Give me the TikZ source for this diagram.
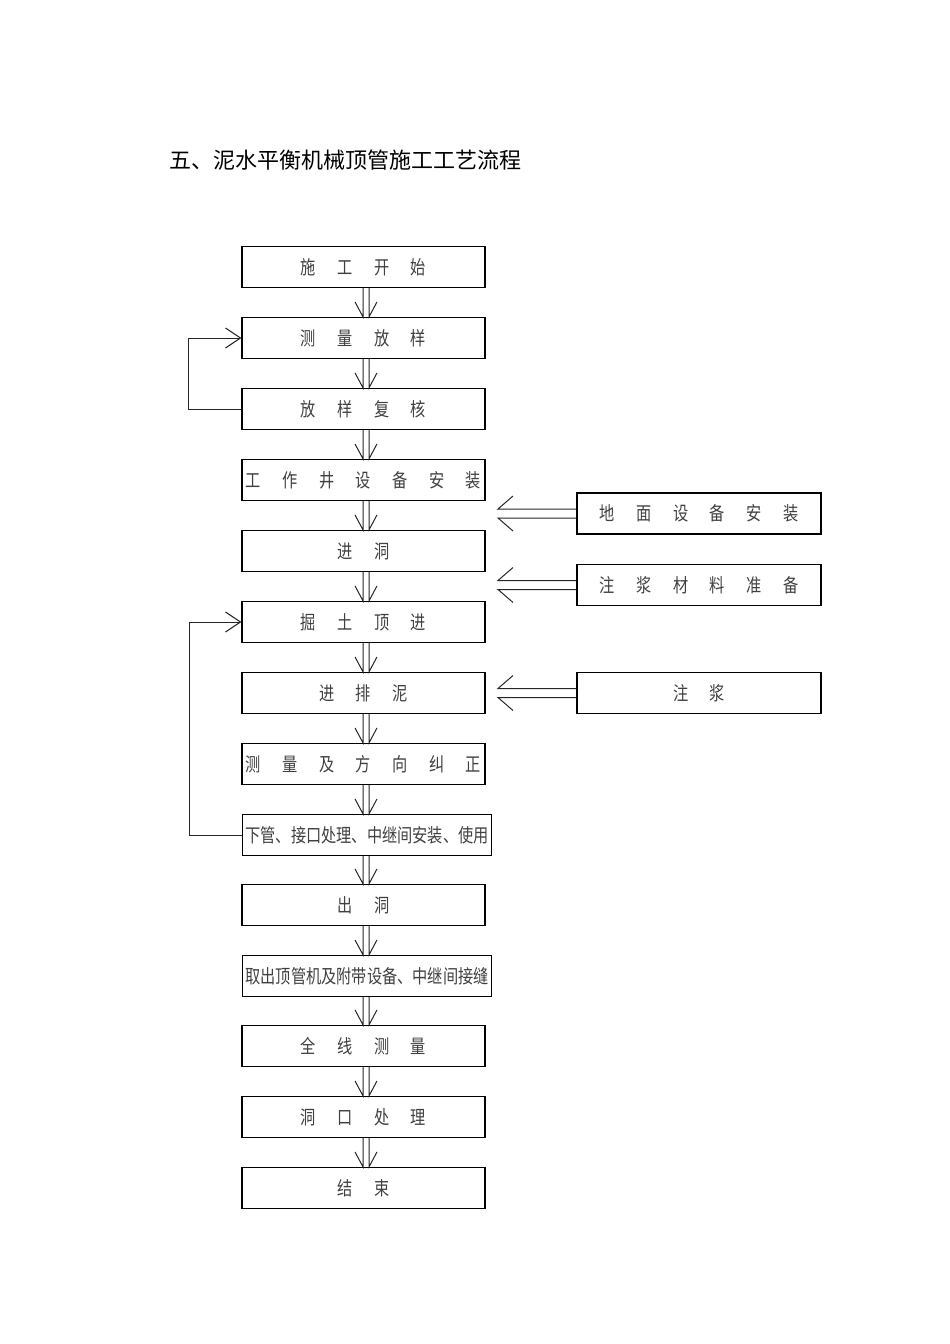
\documentclass[tikz,border=0pt]{standalone}
\usepackage{fontspec}
\newfontfamily\cjk{Noto Sans CJK SC}
\newfontfamily\cjkn[FakeStretch=0.8]{Noto Sans CJK SC}
\usetikzlibrary{calc,arrows.meta}
\newcommand\gp{\hspace{21.5pt}}
\newcommand\varr[2]{%
  \draw[conn] ($(col |- #1.south)+(-3,0)$) -- ($(col |- #2.north)+(-3,0)$) -- +(-8,-15);
  \draw[conn] ($(col |- #1.south)+(3,0)$) -- ($(col |- #2.north)+(3,0)$) -- +(8,-15);}
\newcommand\harr[1]{%
  \draw[conn] ($(#1.west)+(0,-4.5)$) -- ($(tipx |- #1.west)+(0,-4.5)$) -- +(15,-13);
  \draw[conn] ($(#1.west)+(0,4.5)$) -- ($(tipx |- #1.west)+(0,4.5)$) -- +(15,13);}
\begin{document}
\begin{tikzpicture}[x=1pt,y=-1pt,
  box/.style={draw, line width=1.2pt, minimum width=243pt, minimum height=41pt, inner sep=0pt,
    font=\cjkn\fontsize{19pt}{19pt}\selectfont, text=black!75},
  widebox/.style={box, minimum width=249pt},
  conn/.style={line width=1pt, black!85, line join=miter}]
\useasboundingbox (0,0) rectangle (950,1344);
\coordinate (col) at (366,0);
\coordinate (tipx) at (498,0);
\node[anchor=west, font=\cjk\fontsize{22pt}{22pt}\selectfont, inner sep=0pt] (title) at (169,160) {五、泥水平衡机械顶管施工工艺流程};
% main column
\node[box] (b1) at (363.5,267) {施\gp 工\gp 开\gp 始};
\node[box] (b2) at (363.5,338) {测\gp 量\gp 放\gp 样};
\node[box] (b3) at (363.5,409) {放\gp 样\gp 复\gp 核};
\node[box] (b4) at (363.5,480) {工\gp 作\gp 井\gp 设\gp 备\gp 安\gp 装};
\node[box] (b5) at (363.5,551) {进\gp 洞};
\node[box] (b6) at (363.5,622) {掘\gp 土\gp 顶\gp 进};
\node[box] (b7) at (363.5,693) {进\gp 排\gp 泥};
\node[box] (b8) at (363.5,764) {测\gp 量\gp 及\gp 方\gp 向\gp 纠\gp 正};
\node[widebox, anchor=west] (b9) at (242,835) {下管、接口处理、中继间安装、使用};
\node[box] (b10) at (363.5,905) {出\gp 洞};
\node[widebox, anchor=west] (b11) at (242,976) {取出顶管机及附带设备、中继间接缝};
\node[box] (b12) at (363.5,1046) {全\gp 线\gp 测\gp 量};
\node[box] (b13) at (363.5,1117) {洞\gp 口\gp 处\gp 理};
\node[box] (b14) at (363.5,1188) {结\gp 束};
% right column
\node[box, minimum width=244pt] (r1) at (699,513.5) {地\gp 面\gp 设\gp 备\gp 安\gp 装};
\node[box, minimum width=244pt] (r2) at (699,585) {注\gp 浆\gp 材\gp 料\gp 准\gp 备};
\node[box, minimum width=244pt] (r3) at (699,693) {注\gp 浆};
% vertical arrows
\varr{b1}{b2}
\varr{b2}{b3}
\varr{b3}{b4}
\varr{b4}{b5}
\varr{b5}{b6}
\varr{b6}{b7}
\varr{b7}{b8}
\varr{b8}{b9}
\varr{b9}{b10}
\varr{b10}{b11}
\varr{b11}{b12}
\varr{b12}{b13}
\varr{b13}{b14}
% horizontal arrows
\harr{r1}
\harr{r2}
\harr{r3}
% loops
\draw[conn, -{Straight Barb[length=15pt,width=20pt]}] (b3.west) -- ++(-53,0) |- (b2.west);
\draw[conn, -{Straight Barb[length=15pt,width=20pt]}] (b9.west) -- ++(-53,0) |- (b6.west);
\end{tikzpicture}
\end{document}
